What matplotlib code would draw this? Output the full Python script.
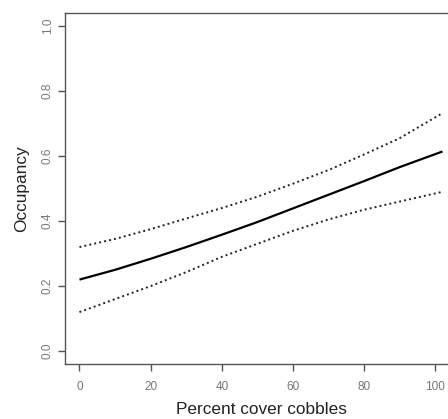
import matplotlib
matplotlib.use("Agg")
import matplotlib.pyplot as plt

# Predicted occupancy against percent cobble cover, with 95% bounds
cover = [0, 10, 20, 30, 40, 50, 60, 70, 80, 90, 102]
occ_mean = [0.220, 0.250, 0.284, 0.320, 0.358, 0.397, 0.439, 0.481, 0.523, 0.566, 0.614]
occ_upper = [0.320, 0.345, 0.375, 0.408, 0.440, 0.475, 0.515, 0.557, 0.605, 0.655, 0.732]
occ_lower = [0.120, 0.160, 0.200, 0.243, 0.290, 0.330, 0.370, 0.405, 0.435, 0.460, 0.490]

x_ticks = [0, 20, 40, 60, 80, 100]
y_ticks = [0.0, 0.2, 0.4, 0.6, 0.8, 1.0]

plt.rcParams["font.family"] = ["Liberation Sans", "DejaVu Sans"]

fig = plt.figure(figsize=(4.48, 4.19), dpi=100)
ax = fig.add_axes([0.145, 0.131, 0.875, 0.838])

ax.plot(cover, occ_mean, color="black", lw=1.6, solid_capstyle="butt")
ax.plot(cover, occ_upper, color="#222222", lw=1.4, linestyle=(0, (1, 1.6)))
ax.plot(cover, occ_lower, color="#222222", lw=1.4, linestyle=(0, (1, 1.6)))

ax.set_xlim(-4.08, 106.08)
ax.set_ylim(-0.04, 1.04)
ax.set_xticks(x_ticks)
ax.set_yticks(y_ticks)
ax.set_xticklabels([str(t) for t in x_ticks])
ax.set_yticklabels([f"{t:.1f}" for t in y_ticks], rotation=90, va="center")

grey = "#555555"
for s in ax.spines.values():
    s.set_color(grey)
    s.set_linewidth(1.0)
ax.tick_params(direction="out", length=5, width=1.0, color=grey,
               labelcolor="#777777", labelsize=8.5)
ax.tick_params(axis="x", pad=7.5)
ax.tick_params(axis="y", pad=3)

ax.set_xlabel("Percent cover cobbles", fontsize=12.4, color="#222222", labelpad=6)
ax.set_ylabel("Occupancy", fontsize=12.4, color="#222222", labelpad=9)

fig.savefig("out.png", dpi=100)
